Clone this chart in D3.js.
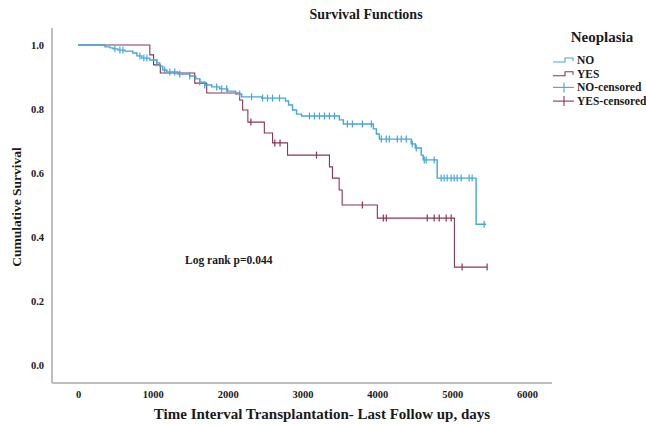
<!DOCTYPE html>
<html>
<head>
<meta charset="utf-8">
<script src="https://cdn.jsdelivr.net/npm/d3@7"></script>
<style>
  html, body { margin: 0; padding: 0; background: #fff; }
  svg { display: block; }
  text { font-family: "Liberation Serif", "Times New Roman", serif; font-weight: bold; fill: #1a1a1a; }
</style>
</head>
<body>
<svg id="chart" width="646" height="425"></svg>
<script>
// Kaplan-Meier estimates: event times (days) and survival after each event
const noTimes = [360, 427, 467, 533, 627, 733, 787, 853, 960, 1053, 1093, 1133, 1187, 1333, 1493, 1573, 1627, 1693, 1787, 1893, 2000, 2107, 2187, 2453, 2773, 2813, 2867, 2920, 2987, 3493, 3547, 3947, 3987, 4027, 4453, 4507, 4587, 4613, 4800, 5320];
const noSurv  = [0.994, 0.991, 0.988, 0.984, 0.981, 0.975, 0.966, 0.959, 0.953, 0.944, 0.934, 0.922, 0.916, 0.909, 0.903, 0.894, 0.884, 0.875, 0.869, 0.863, 0.856, 0.847, 0.838, 0.834, 0.825, 0.8125, 0.797, 0.784, 0.778, 0.766, 0.753, 0.738, 0.722, 0.706, 0.691, 0.678, 0.656, 0.641, 0.584, 0.44];
const noEnd = 5453;
const noCensored = [493, 560, 600, 827, 880, 920, 1053, 1160, 1227, 1293, 1360, 1493, 1627, 1693, 1853, 1920, 1987, 2160, 2320, 2467, 2533, 2600, 2693, 3093, 3160, 3227, 3293, 3360, 3427, 3600, 3667, 3800, 3920, 4053, 4120, 4160, 4267, 4320, 4387, 4467, 4520, 4627, 4653, 4760, 4853, 4893, 4933, 4987, 5027, 5067, 5120, 5227, 5267, 5427];

const yesTimes = [960, 1010, 1100, 1560, 1720, 2160, 2200, 2270, 2490, 2600, 2800, 3360, 3400, 3490, 3530, 4000, 5030];
const yesSurv  = [0.969, 0.938, 0.9125, 0.881, 0.85, 0.828, 0.797, 0.759, 0.725, 0.694, 0.656, 0.619, 0.584, 0.547, 0.5, 0.459, 0.306];
const yesEnd = 5467;
const yesCensored = [2310, 2630, 2700, 3187, 3800, 4080, 4120, 4667, 4760, 4827, 4920, 4987, 5133, 5467];

const xTicks = [0, 1000, 2000, 3000, 4000, 5000, 6000];
const yTicks = [0, 0.2, 0.4, 0.6, 0.8, 1.0];

const groups = [
  { name: "NO",  times: noTimes,  surv: noSurv,  end: noEnd,  censored: noCensored,  color: "#45a6dc", width: 1.4 },
  { name: "YES", times: yesTimes, surv: yesSurv, end: yesEnd, censored: yesCensored, color: "#8a3553", width: 1.1 }
];

const svg = d3.select("#chart");
const x = d3.scaleLinear().domain([0, 6000]).range([78, 527]);
const y = d3.scaleLinear().domain([0, 1]).range([365, 45]);

// axis frame lines (left and bottom)
svg.append("line").attr("x1", 52).attr("x2", 52).attr("y1", 28).attr("y2", 383)
  .attr("stroke", "#a8a8a8").attr("stroke-width", 1.5);
svg.append("line").attr("x1", 52).attr("x2", 552).attr("y1", 383).attr("y2", 383)
  .attr("stroke", "#a8a8a8").attr("stroke-width", 1.5);

// tick labels via d3 axes
const xAxis = svg.append("g").attr("transform", "translate(0,383)")
  .call(d3.axisBottom(x).tickValues(xTicks).tickSize(0).tickPadding(8).tickFormat(d3.format("d")));
xAxis.select(".domain").remove();
xAxis.selectAll("text").attr("font-size", 10.5).attr("font-family", "Liberation Serif").attr("font-weight", "bold").attr("fill", "#333");

const yAxis = svg.append("g").attr("transform", "translate(52,0)")
  .call(d3.axisLeft(y).tickValues(yTicks).tickSize(0).tickPadding(8).tickFormat(d3.format(".1f")));
yAxis.select(".domain").remove();
yAxis.selectAll("text").attr("font-size", 10.5).attr("font-family", "Liberation Serif").attr("font-weight", "bold").attr("fill", "#333");

// survival step curves
const line = d3.line().x(d => x(d[0])).y(d => y(d[1])).curve(d3.curveStepAfter);

function stepValue(g, t) {
  let s = 1;
  for (let i = 0; i < g.times.length; i++) { if (g.times[i] <= t) s = g.surv[i]; }
  return s;
}

groups.slice().reverse().forEach(g => {
  const pts = [[0, 1]].concat(g.times.map((t, i) => [t, g.surv[i]]));
  pts.push([g.end, g.surv[g.surv.length - 1]]);
  svg.append("path").datum(pts).attr("d", line)
    .attr("fill", "none").attr("stroke", g.color).attr("stroke-width", g.width);
  svg.append("g").selectAll("line").data(g.censored).join("line")
    .attr("x1", d => x(d)).attr("x2", d => x(d))
    .attr("y1", d => y(stepValue(g, d)) - 3.5).attr("y2", d => y(stepValue(g, d)) + 3.5)
    .attr("stroke", g.color).attr("stroke-width", 1.2);
});

// titles
svg.append("text").attr("x", 366).attr("y", 19).attr("text-anchor", "middle")
  .attr("font-size", 14).text("Survival Functions");
svg.append("text").attr("transform", "translate(21,207) rotate(-90)").attr("text-anchor", "middle")
  .attr("font-size", 13.5).text("Cumulative Survival");
svg.append("text").attr("x", 322).attr("y", 419).attr("text-anchor", "middle")
  .attr("font-size", 15).text("Time Interval Transplantation- Last Follow up, days");
svg.append("text").attr("x", 185).attr("y", 264)
  .attr("font-size", 11.5).text("Log rank p=0.044");

// legend
const legend = svg.append("g");
legend.append("text").attr("x", 602).attr("y", 42).attr("text-anchor", "middle")
  .attr("font-size", 15).text("Neoplasia");
const entries = [
  { label: "NO", color: groups[0].color, kind: "step" },
  { label: "YES", color: groups[1].color, kind: "step" },
  { label: "NO-censored", color: groups[0].color, kind: "cens" },
  { label: "YES-censored", color: groups[1].color, kind: "cens" }
];
entries.forEach((e, i) => {
  const cy = 60 + i * 13.7;
  if (e.kind === "step") {
    legend.append("path").attr("d", `M553,${cy + 2}H565V${cy - 2}H573V${cy + 1}`)
      .attr("fill", "none").attr("stroke", e.color).attr("stroke-width", 1.1);
  } else {
    legend.append("line").attr("x1", 553).attr("x2", 574).attr("y1", cy).attr("y2", cy)
      .attr("stroke", e.color).attr("stroke-width", 1.1);
    legend.append("line").attr("x1", 564).attr("x2", 564).attr("y1", cy - 5).attr("y2", cy + 5)
      .attr("stroke", e.color).attr("stroke-width", 1.1);
  }
  legend.append("text").attr("x", 577).attr("y", cy + 4).attr("font-size", 11.5).text(e.label);
});
</script>
</body>
</html>
